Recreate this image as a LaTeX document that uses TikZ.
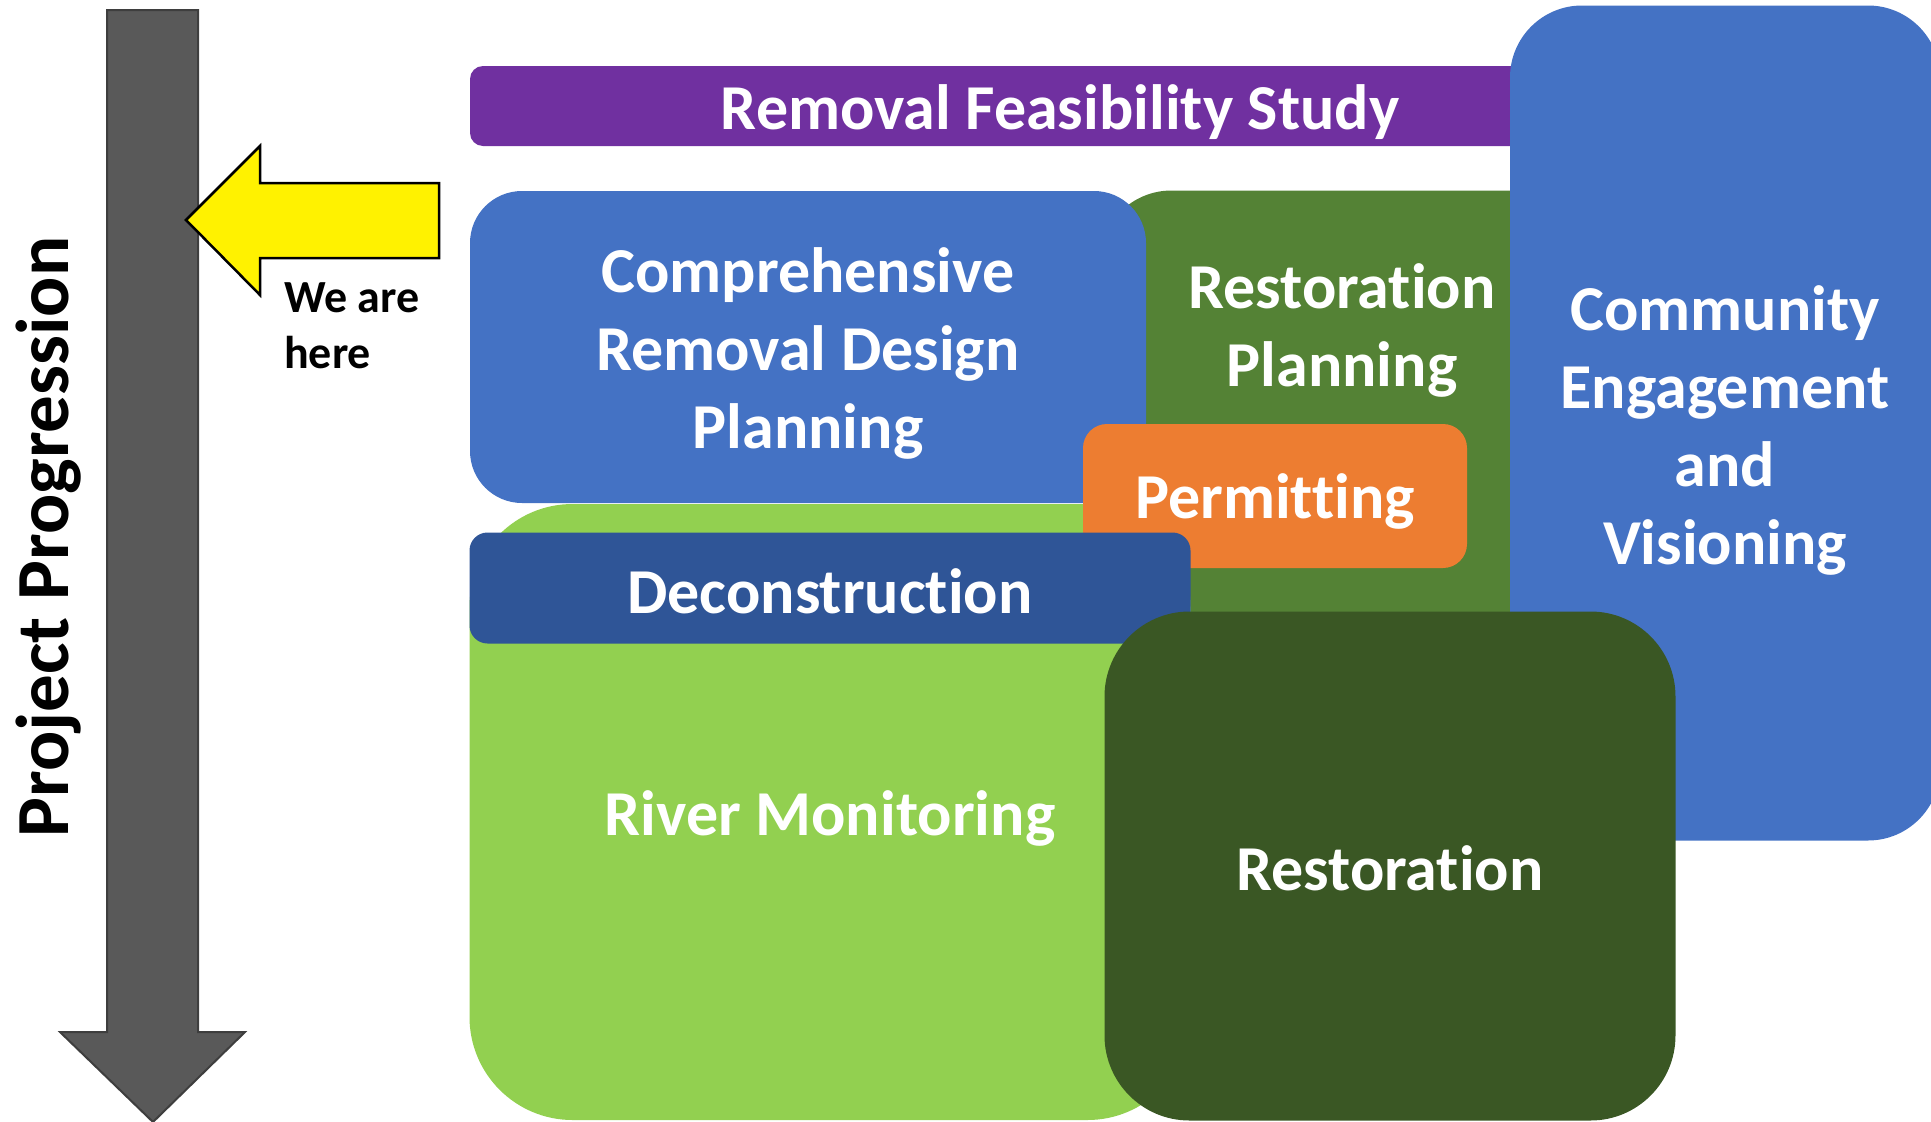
\documentclass[tikz,border=0pt]{standalone}
\usepackage{fontspec}
\setmainfont[Ligatures=NoCommon]{Carlito}
\usepackage{tikz}

\definecolor{studyPurple}{HTML}{7030A0}
\definecolor{designBlue}{HTML}{4472C4}
\definecolor{planGreen}{HTML}{548235}
\definecolor{permitOrange}{HTML}{ED7D31}
\definecolor{deconBlue}{HTML}{2F5597}
\definecolor{riverGreen}{HTML}{92D050}
\definecolor{restoreGreen}{HTML}{3A5724}
\definecolor{progGrey}{HTML}{595959}

\begin{document}
\begin{tikzpicture}[x=1pt, y=-1pt,
        phase/.style={inner sep=0pt},
        phasetext/.style={inner sep=0pt, text=white, align=center,
            font=\bfseries\fontsize{64}{78}\selectfont}]
    \useasboundingbox (0,0) rectangle (1931,1122);

    % progression arrow and marker
    \draw[fill=progGrey, draw=progGrey!70!black, line width=2pt, line join=miter]
        (107,10) -- (198,10) -- (198,1032) -- (245,1032) -- (153,1122)
        -- (60,1032) -- (107,1032) -- cycle;
    \draw[fill=yellow, draw=black, line width=2.5pt, line join=miter]
        (439,183) -- (260,183) -- (260,146) -- (186,220) -- (260,295)
        -- (260,258) -- (439,258) -- cycle;
    \node[rotate=90, anchor=base, inner sep=0pt,
        font=\bfseries\fontsize{75}{90}\selectfont] (progress) at (68,537) {Project Progression};
    \node[anchor=north west, inner sep=0pt, align=left,
        font=\bfseries\fontsize{46}{56}\selectfont] (here) at (284,282) {We are\\here};

    % phase boxes, back to front
    \node[phase, fill=studyPurple, rounded corners=13pt, minimum width=1180pt, minimum height=80pt]
        (study) at (1060,106) {};
    \node[phasetext] (studytext) at ([yshift=-6pt]study.center) {Removal Feasibility Study};
    \node[phase, fill=planGreen, rounded corners=72pt, minimum width=485pt, minimum height=469pt]
        (restplan) at (1342,425) {};
    \node[phasetext] (restplantext) at (1342,330) {Restoration\\Planning};
    \node[phase, fill=designBlue, rounded corners=72pt, minimum width=430pt, minimum height=835pt]
        (community) at (1725,423) {};
    \node[phasetext] (communitytext) at ([yshift=-7pt]community.center) {Community\\Engagement\\and\\Visioning};
    \node[phase, fill=designBlue, rounded corners=52pt, minimum width=676pt, minimum height=312pt]
        (design) at (808,347) {};
    \node[phasetext] (designtext) at ([yshift=-6pt]design.center) {Comprehensive\\Removal Design\\Planning};
    \node[phase, fill=riverGreen, rounded corners=103pt, minimum width=721pt, minimum height=616pt]
        (river) at (830,812) {};
    \node[phasetext] (rivertext) at ([yshift=-6pt]river.center) {River Monitoring};
    \node[phase, fill=permitOrange, rounded corners=24pt, minimum width=384pt, minimum height=144pt]
        (permit) at (1275,496) {};
    \node[phasetext] (permittext) at ([yshift=-5pt]permit.center) {Permitting};
    \node[phase, fill=deconBlue, rounded corners=18pt, minimum width=721pt, minimum height=111pt]
        (decon) at (830,588) {};
    \node[phasetext] (decontext) at ([yshift=-3pt]decon.center) {Deconstruction};
    \node[phase, fill=restoreGreen, rounded corners=85pt, minimum width=571pt, minimum height=509pt]
        (restore) at (1390,866) {};
    \node[phasetext] (restoretext) at ([yshift=-2pt]restore.center) {Restoration};
\end{tikzpicture}
\end{document}
